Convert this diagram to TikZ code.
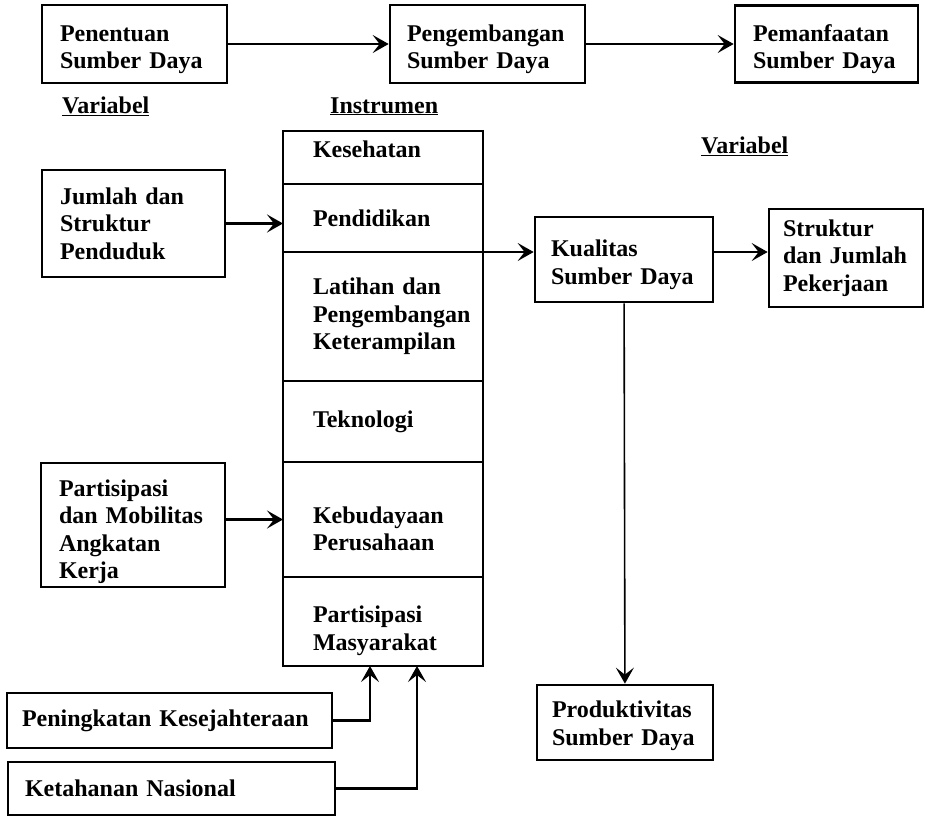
\documentclass[tikz,border=0pt]{standalone}
\usepackage{fontspec}
\setmainfont{Liberation Serif}
\usetikzlibrary{arrows.meta, positioning, calc}
\tikzset{
  arrowK/.style={-{Stealth[length=16pt, width=18pt, inset=7pt]}, line width=2.7pt},
  boxV/.style={rectangle, draw, line width=2.7pt, align=left,
               font=\bfseries\fontsize{24}{27.5}\selectfont, inner xsep=18pt},
  boxI/.style={boxV, outer sep=0pt, minimum width=200pt, text width=140pt, inner xsep=30pt},
  head/.style={font=\bfseries\fontsize{24}{27.5}\selectfont, anchor=base west, inner sep=0pt},
  dropT/.style={execute at begin node={\rule{0pt}{#1}}},
  liftT/.style={execute at end node={\rule[-#1]{0pt}{#1}}},
}

\begin{document}
\begin{tikzpicture}[x=1pt, y=-1pt]
    \useasboundingbox (0,0) rectangle (925,820);

    % baris atas
    \node[boxV, dropT=27pt, text width=149pt, minimum height=78pt] (pen) at (134.5, 44) {Penentuan\\ Sumber Daya};
    \node[boxV, dropT=27pt, text width=161pt, inner xsep=17pt, minimum height=78pt] (peng) at (487.5, 44) {Pengembangan\\ Sumber Daya};
    \node[boxV, dropT=27pt, text width=147pt, minimum height=77pt] (pem) at (826.5, 44) {Pemanfaatan\\ Sumber Daya};
    \draw[arrowK] (pen) -- (peng);
    \draw[arrowK] (peng) -- (pem);

    \node[head] (varA) at (62, 113) {\underline{Variabel}};
    \node[head] (instr) at (330, 113) {\underline{Instrumen}};
    \node[head] (varB) at (701, 153) {\underline{Variabel}};

    % kolom instrumen
    \node[boxI, liftT=17pt, minimum height=53pt] (kes) at (383, 157.5) {Kesehatan};
    \node[boxI, minimum height=68pt, below=0pt of kes] (pend) {Pendidikan};
    \node[boxI, minimum height=129pt, below=0pt of pend] (lat) {Latihan dan\\ \mbox{Pengembangan}\\ Keterampilan};
    \node[boxI, minimum height=81pt, below=0pt of lat] (tek) {Teknologi};
    \node[boxI, dropT=35pt, minimum height=115pt, below=0pt of tek] (keb) {Kebudayaan\\ Perusahaan};
    \node[boxI, dropT=35pt, minimum height=89pt, below=0pt of keb] (masy) {Partisipasi\\ Masyarakat};

    % variabel kiri
    \node[boxV, text width=147pt, minimum height=107pt] (jml) at (133.5, 223.5) {Jumlah dan\\ Struktur\\ Penduduk};
    \node[boxV, dropT=30pt, inner ysep=0pt, text width=148pt, minimum height=124pt] (part) at (133, 525) {Partisipasi\\ dan Mobilitas\\ Angkatan\\ Kerja};
    \node[boxV, text width=295pt, inner xsep=15pt, minimum height=55pt] (ping) at (169.5, 720.5) {Peningkatan Kesejahteraan};
    \node[boxV, text width=293pt, inner xsep=17pt, minimum height=53pt] (ketah) at (171.5, 788.5) {Ketahanan Nasional};

    % variabel kanan
    \node[boxV, dropT=27pt, text width=146pt, inner xsep=16pt, minimum height=85pt] (kual) at (624, 259.5) {Kualitas\\ Sumber Daya};
    \node[boxV, text width=126pt, inner xsep=14pt, minimum height=98pt] (struk) at (846, 258) {Struktur\\ dan Jumlah\\ Pekerjaan};
    \node[boxV, dropT=23pt, text width=146pt, inner xsep=15pt, minimum height=75pt] (prod) at (625, 722.5) {Produktivitas\\ Sumber Daya};

    \draw[arrowK] (jml.east) -- (jml.east -| pend.west);
    \draw[arrowK] (part.east |- keb.west) -- (keb.west);
    \draw[arrowK] (pend.south east) -- (pend.south east -| kual.west);
    \draw[arrowK] (kual.east |- pend.south) -- (struk.west |- pend.south);
    \draw[arrowK, line width=1.6pt] (kual) -- (prod);
    \draw[arrowK] (ping.east) -| ($(masy.south west)+(87,0)$);
    \draw[arrowK] (ketah.east) -| ($(masy.south west)+(134,0)$);
\end{tikzpicture}
\end{document}
